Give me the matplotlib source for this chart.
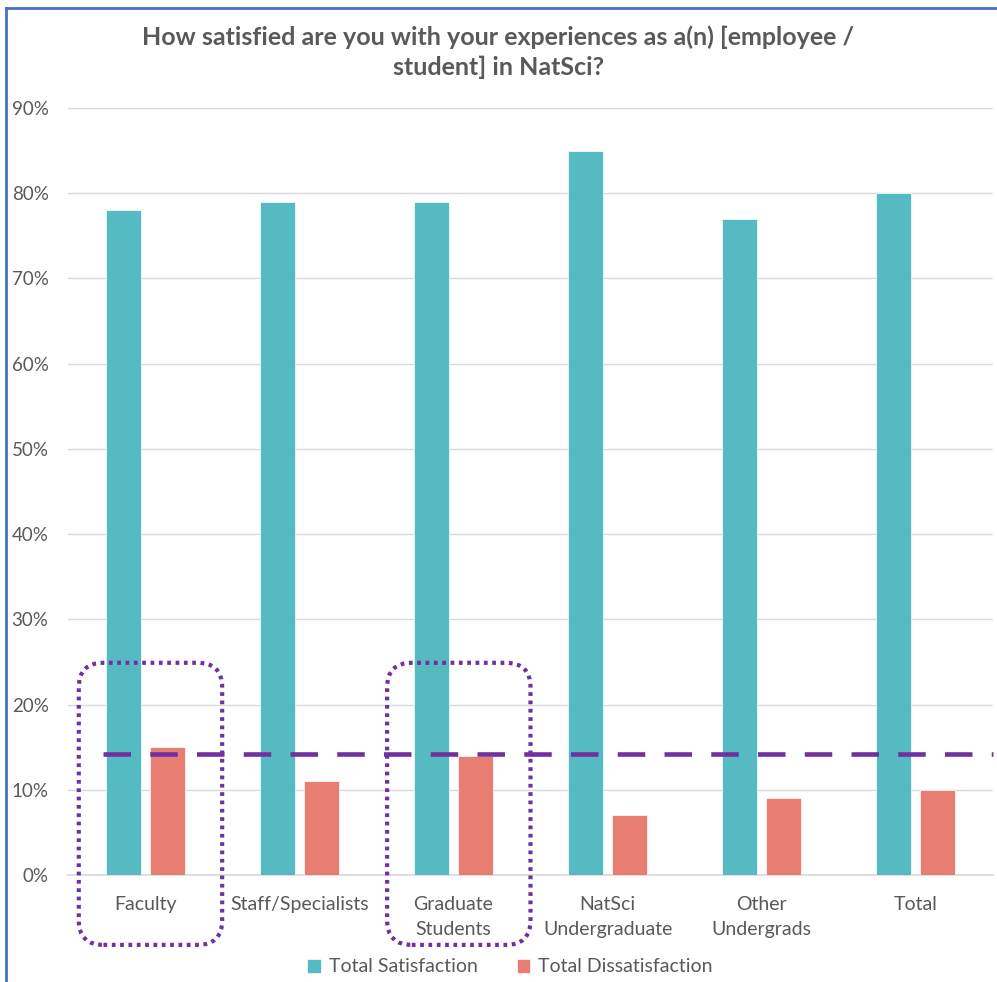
import matplotlib
matplotlib.use("Agg")
import matplotlib.pyplot as plt
from matplotlib.patches import FancyBboxPatch
from matplotlib.ticker import PercentFormatter
import numpy as np

categories = ["Faculty", "Staff/Specialists", "Graduate\nStudents", "NatSci\nUndergraduate", "Other\nUndergrads", "Total"]
satisfaction = [78, 79, 79, 85, 77, 80]
dissatisfaction = [15, 11, 14, 7, 9, 10]
reference_level = 14.2
highlighted = [0, 2]
yticks = [0, 10, 20, 30, 40, 50, 60, 70, 80, 90]

plt.rcParams['font.family'] = ['Lato', 'DejaVu Sans']
TEAL = "#55BAC1"
SALMON = "#E87D72"
PURPLE = "#7030A0"
TXT = "#595959"
GRID = "#D9D9D9"

fig = plt.figure(figsize=(9.97, 9.82), dpi=100)
ax = fig.add_axes([68/997, 1-875/982, (993-68)/997, (875-108)/982])

x = np.arange(len(categories))
w = 0.227
off = 0.143
ax.bar(x - off, satisfaction, w, color=TEAL, edgecolor="white", linewidth=0.5, label="Total Satisfaction", zorder=3)
ax.bar(x + off, dissatisfaction, w, color=SALMON, edgecolor="white", linewidth=0.5, label="Total Dissatisfaction", zorder=3)

ax.set_xlim(-0.5, len(categories) - 0.5)
ax.set_ylim(0, 90)
ax.set_yticks(yticks)
ax.yaxis.set_major_formatter(PercentFormatter(decimals=0))
ax.set_xticks(x)
ax.set_xticklabels(categories, fontsize=14, color=TXT, linespacing=1.55)
ax.tick_params(axis='x', length=0, pad=15)
ax.tick_params(axis='y', length=0, pad=14, labelsize=13.5, labelcolor=TXT)
ax.grid(axis='y', color=GRID, linewidth=1, zorder=0)
for s in ['top', 'right', 'left']:
    ax.spines[s].set_visible(False)
ax.spines['bottom'].set_color(GRID)
ax.spines['bottom'].set_linewidth(1.2)

# reference dashed line
ax.plot([-0.27, len(categories) - 0.5], [reference_level, reference_level], color=PURPLE,
        linewidth=3.3, linestyle=(0, (6, 4.2)), zorder=4, clip_on=False)

# dotted highlight boxes
for i in highlighted:
    box = FancyBboxPatch((i - 0.43, -8.2), 0.93, 33.1,
                         boxstyle="round,pad=0,rounding_size=0.16",
                         mutation_aspect=18,
                         fill=False, edgecolor=PURPLE, linewidth=3,
                         linestyle=(0, (0.9, 1.1)), clip_on=False, zorder=5)
    ax.add_patch(box)

fig.suptitle("How satisfied are you with your experiences as a(n) [employee /\nstudent] in NatSci?",
             fontsize=18, fontweight='bold', color=TXT, y=1-25/982, va='top', linespacing=1.35)

leg = fig.legend(loc='center', bbox_to_anchor=(510/997, 1-967/982), ncol=2, frameon=False,
                 fontsize=14, handlelength=0.7, handleheight=0.7, handletextpad=0.4, columnspacing=2.0)
for t in leg.get_texts():
    t.set_color(TXT)

# border
fig.add_artist(plt.Line2D([6/997, 6/997], [0, 1-8/982], color="#4472C4", linewidth=2, transform=fig.transFigure))
fig.add_artist(plt.Line2D([6/997, 1], [1-8/982, 1-8/982], color="#4472C4", linewidth=2, transform=fig.transFigure))

fig.savefig("out.png", dpi=100, facecolor="white")
